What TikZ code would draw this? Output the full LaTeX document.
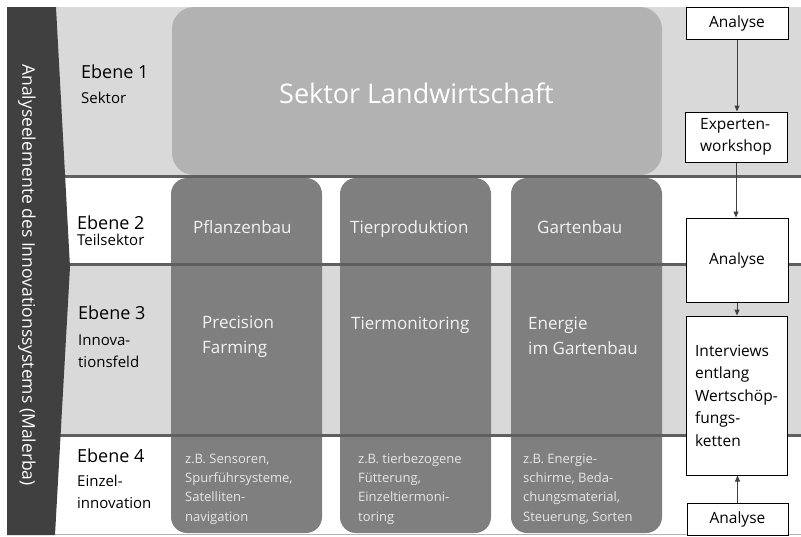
\documentclass[tikz,border=0pt]{standalone}
\usepackage{fontspec}
\setmainfont{Open Sans}
\usetikzlibrary{arrows.meta}
\definecolor{cLight}{HTML}{D9D9D9}
\definecolor{cSektor}{HTML}{B2B2B2}
\definecolor{cCol}{HTML}{7F7F7F}
\definecolor{cSep}{HTML}{5F5F5F}
\definecolor{cBand}{HTML}{404040}
\definecolor{cColTxt}{HTML}{F2F2F2}
\definecolor{cSmallTxt}{HTML}{E6E6E6}
\definecolor{cArr}{HTML}{404040}
\begin{document}
\begin{tikzpicture}[x=1pt,y=-1pt,
  bgband/.style={fill=cLight, draw=none},
  sepline/.style={draw=cSep, line width=3pt},
  colbox/.style={fill=cCol, draw=none, rounded corners=16pt},
  ebene/.style={anchor=base west, inner sep=0pt, text=black, font=\fontsize{18}{22}\selectfont},
  sublbl/.style={anchor=base west, inner sep=0pt, text=black, font=\fontsize{15}{21.5}\selectfont, align=left},
  coltxt/.style={anchor=base west, inner sep=0pt, text=cColTxt, font=\fontsize{17}{24.5}\selectfont, align=left},
  smalltxt/.style={anchor=base west, inner sep=0pt, text=cSmallTxt, font=\fontsize{13}{19.3}\selectfont, align=left},
  stepbox/.style={draw=black, fill=white, line width=1pt, inner sep=0pt, align=left, font=\fontsize{15.5}{22.5}\selectfont},
  arr/.style={draw=cArr, line width=1pt, -{Triangle[length=6pt,width=5pt]}}
]
\useasboundingbox (0,0) rectangle (801,536);
% background rows
\fill[bgband] (40,7) rectangle (801,176);
\fill[bgband] (40,264) rectangle (801,435);
% sector box
\fill[cSektor, rounded corners=22pt] (172,7) rectangle (662,175);
\node[inner sep=0pt, anchor=base, text=white, font=\fontsize{27}{32}\selectfont] (sektor) at (416.5,103) {Sektor Landwirtschaft};
% columns
\fill[colbox] (171,178) rectangle (322,533);
\fill[colbox] (340,178) rectangle (491,533);
\fill[colbox] (511,178) rectangle (662,533);
% separator lines
\draw[sepline] (50,176) -- (801,176);
\draw[sepline] (50,264) -- (801,264);
\draw[sepline] (50,435) -- (801,435);
\draw[draw=gray!60, line width=1pt] (50,534) -- (801,534);
% left band
\fill[cBand] (7,7) -- (56,7) -- (70,267) -- (55,535) -- (7,535) -- cycle;
\node[rotate=-90, inner sep=0pt, text=white, font=\fontsize{17.5}{21}\selectfont] (bandtxt) at (27,275) {Analyseelemente des Innovationssystems (Malerba)};
% level labels
\node[ebene] (e1) at (81,78) {Ebene 1};
\node[sublbl] (s1) at (81,103) {Sektor};
\node[ebene] (e2) at (77,229) {Ebene 2};
\node[sublbl] (s2) at (77,245) {Teilsektor};
\node[ebene] (e3) at (78,319) {Ebene 3};
\node[sublbl] (s3) at (78,367) {Innova-\\tionsfeld};
\node[ebene] (e4) at (77,462) {Ebene 4};
\node[sublbl] (s4) at (77,508) {Einzel-\\innovation};
% column texts level 2
\node[coltxt] (t2a) at (193,233) {Pflanzenbau};
\node[coltxt] (t2b) at (350,233) {Tierproduktion};
\node[coltxt] (t2c) at (537,233) {Gartenbau};
% column texts level 3
\node[coltxt] (t3a) at (202,353) {Precision\\Farming};
\node[coltxt] (t3b) at (351,329) {Tiermonitoring};
\node[coltxt] (t3c) at (528,354) {Energie\\im Gartenbau};
% column texts level 4
\node[smalltxt] (t4a) at (185,521) {z.B. Sensoren,\\Spurführsysteme,\\Satelliten-\\navigation};
\node[smalltxt] (t4b) at (358,521) {z.B. tierbezogene\\Fütterung,\\Einzeltiermoni-\\toring};
\node[smalltxt] (t4c) at (523,521) {z.B. Energie-\\schirme, Beda-\\chungsmaterial,\\Steuerung, Sorten};
% right process boxes
\node[stepbox, minimum width=102pt, minimum height=32pt] (an1) at (737,23) {Analyse};
\node[stepbox, minimum width=102pt, minimum height=50pt] (ew) at (736,137) {Experten-\\workshop};
\node[stepbox, minimum width=102pt, minimum height=84pt] (an2) at (737,260) {Analyse};
\node[stepbox, minimum width=101pt, minimum height=159pt] (iv) at (736.5,395.5) {Interviews\\entlang\\Wertschöp-\\fungs-\\ketten};
\node[stepbox, minimum width=101pt, minimum height=32pt] (an3) at (737.5,519.5) {Analyse};
% arrows
\draw[arr] (an1.south) -- (an1.south |- ew.north);
\draw[arr] (ew.south) -- (ew.south |- an2.north);
\draw[arr] (an2.south) -- (an2.south |- iv.north);
\draw[arr] (an3.north) -- (an3.north |- iv.south);
\end{tikzpicture}
\end{document}
